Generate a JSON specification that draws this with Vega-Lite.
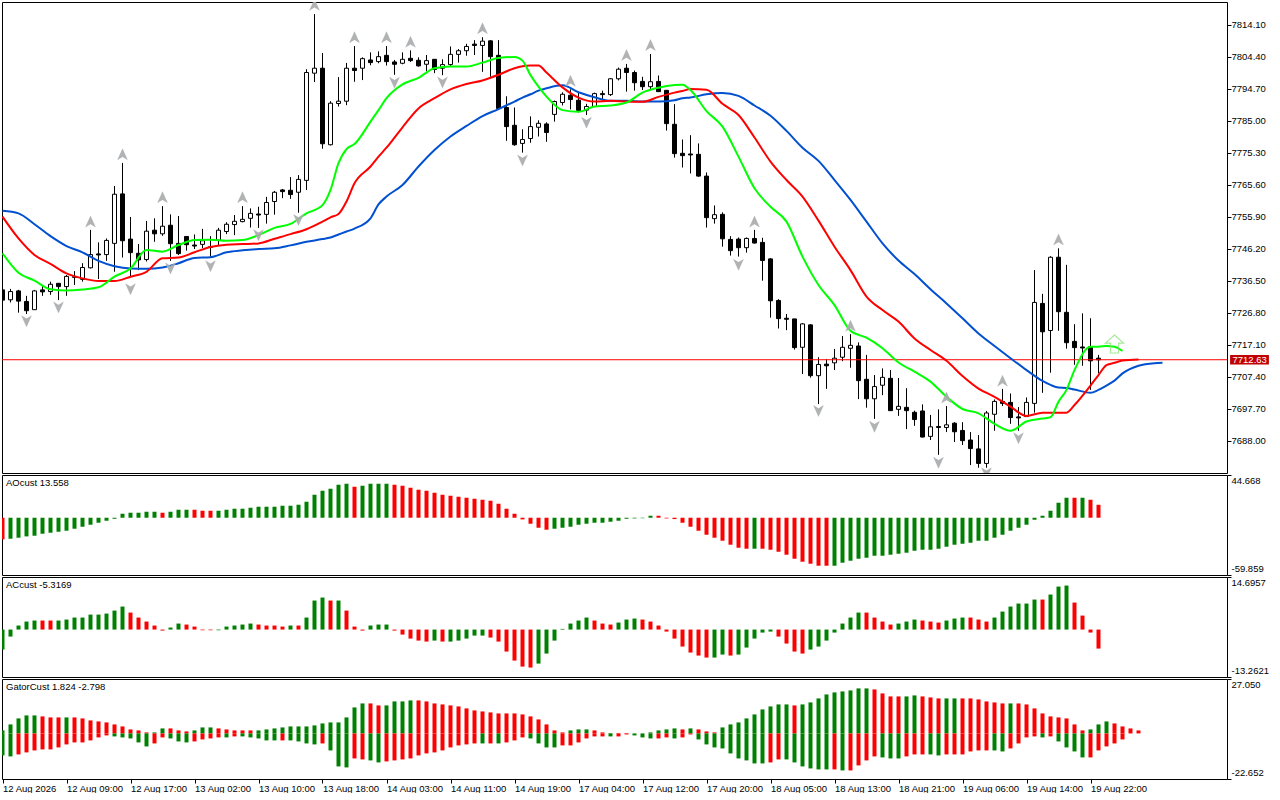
{
"$schema":"https://vega.github.io/schema/vega-lite/v6.json",
"background":"white",
"padding":{"left":1,"top":1,"right":0,"bottom":0},
"spacing":2,
"bounds":"flush",
"config":{
"font":"Liberation Sans",
"view":{"stroke":"#000000","strokeWidth":1},
"title":{"font":"Liberation Sans","fontSize":9.5,"fontWeight":"normal","color":"#000000","anchor":"start","frame":"group","offset":-13,"dx":4},
"axis":{"labelFont":"Liberation Sans","labelFontSize":9.5,"labelColor":"#000000","tickColor":"#000000","tickSize":4,"domain":false,"grid":false,"labelPadding":0,"labelOverlap":false,"labelBound":false,"labelFlush":false}
},
"datasets":{
"candles":[
{"i":0,"o":7733.8,"h":7733.8,"l":7730.7,"c":7730.7},
{"i":1,"o":7730.8,"h":7734.1,"l":7730.0,"c":7733.3},
{"i":2,"o":7733.5,"h":7733.8,"l":7726.9,"c":7730.4},
{"i":3,"o":7730.3,"h":7732.0,"l":7726.5,"c":7727.5},
{"i":4,"o":7727.8,"h":7733.8,"l":7727.8,"c":7733.5},
{"i":5,"o":7733.8,"h":7735.0,"l":7732.0,"c":7733.2},
{"i":6,"o":7733.3,"h":7736.3,"l":7732.3,"c":7735.5},
{"i":7,"o":7735.8,"h":7735.8,"l":7730.7,"c":7734.8},
{"i":8,"o":7734.8,"h":7738.3,"l":7732.0,"c":7737.9},
{"i":9,"o":7737.6,"h":7739.5,"l":7735.3,"c":7737.9},
{"i":10,"o":7737.0,"h":7741.9,"l":7736.3,"c":7740.6},
{"i":11,"o":7740.5,"h":7752.0,"l":7740.3,"c":7744.5},
{"i":12,"o":7744.7,"h":7748.2,"l":7737.1,"c":7744.4},
{"i":13,"o":7744.5,"h":7749.4,"l":7742.6,"c":7748.8},
{"i":14,"o":7747.9,"h":7765.3,"l":7739.3,"c":7762.8},
{"i":15,"o":7762.9,"h":7772.3,"l":7743.6,"c":7748.7},
{"i":16,"o":7749.2,"h":7755.9,"l":7737.8,"c":7745.1},
{"i":17,"o":7744.9,"h":7747.7,"l":7739.8,"c":7742.9},
{"i":18,"o":7743.0,"h":7754.7,"l":7742.4,"c":7751.6},
{"i":19,"o":7751.9,"h":7755.5,"l":7748.4,"c":7750.8},
{"i":20,"o":7750.8,"h":7759.2,"l":7750.2,"c":7753.1},
{"i":21,"o":7753.4,"h":7756.7,"l":7742.6,"c":7747.8},
{"i":22,"o":7747.9,"h":7756.2,"l":7744.4,"c":7744.8},
{"i":23,"o":7750.0,"h":7750.0,"l":7745.7,"c":7747.5},
{"i":24,"o":7747.4,"h":7750.6,"l":7746.2,"c":7747.1},
{"i":25,"o":7747.6,"h":7752.3,"l":7746.5,"c":7748.7},
{"i":26,"o":7746.7,"h":7750.1,"l":7743.9,"c":7746.9},
{"i":27,"o":7748.9,"h":7752.6,"l":7747.2,"c":7751.9},
{"i":28,"o":7751.5,"h":7754.3,"l":7750.7,"c":7753.7},
{"i":29,"o":7753.6,"h":7756.5,"l":7750.4,"c":7754.6},
{"i":30,"o":7754.5,"h":7759.2,"l":7754.3,"c":7755.2},
{"i":31,"o":7755.5,"h":7758.5,"l":7752.7,"c":7757.0},
{"i":32,"o":7756.8,"h":7759.0,"l":7752.6,"c":7756.5},
{"i":33,"o":7756.7,"h":7762.0,"l":7753.9,"c":7760.3},
{"i":34,"o":7760.6,"h":7763.8,"l":7756.6,"c":7763.4},
{"i":35,"o":7764.1,"h":7764.4,"l":7761.6,"c":7763.6},
{"i":36,"o":7764.0,"h":7768.0,"l":7761.4,"c":7762.7},
{"i":37,"o":7763.4,"h":7768.6,"l":7757.2,"c":7767.3},
{"i":38,"o":7767.0,"h":7800.7,"l":7764.1,"c":7799.7},
{"i":39,"o":7799.5,"h":7817.4,"l":7796.8,"c":7801.0},
{"i":40,"o":7801.0,"h":7805.6,"l":7776.6,"c":7778.1},
{"i":41,"o":7777.8,"h":7791.0,"l":7777.6,"c":7790.4},
{"i":42,"o":7790.3,"h":7798.3,"l":7789.4,"c":7791.0},
{"i":43,"o":7791.0,"h":7802.6,"l":7789.8,"c":7801.0},
{"i":44,"o":7801.0,"h":7807.7,"l":7796.9,"c":7800.3},
{"i":45,"o":7801.0,"h":7804.3,"l":7797.4,"c":7803.9},
{"i":46,"o":7803.5,"h":7805.8,"l":7801.9,"c":7802.7},
{"i":47,"o":7803.0,"h":7806.1,"l":7802.5,"c":7804.5},
{"i":48,"o":7804.9,"h":7807.7,"l":7801.8,"c":7803.0},
{"i":49,"o":7802.9,"h":7803.5,"l":7799.0,"c":7802.2},
{"i":50,"o":7802.5,"h":7805.8,"l":7802.2,"c":7803.7},
{"i":51,"o":7804.0,"h":7806.4,"l":7802.9,"c":7803.3},
{"i":52,"o":7803.4,"h":7804.3,"l":7801.5,"c":7801.7},
{"i":53,"o":7802.2,"h":7805.0,"l":7800.1,"c":7803.3},
{"i":54,"o":7803.7,"h":7803.7,"l":7799.5,"c":7800.6},
{"i":55,"o":7801.0,"h":7803.7,"l":7798.9,"c":7802.1},
{"i":56,"o":7802.1,"h":7807.6,"l":7801.5,"c":7805.2},
{"i":57,"o":7805.2,"h":7806.8,"l":7802.7,"c":7806.3},
{"i":58,"o":7806.3,"h":7808.4,"l":7804.8,"c":7807.6},
{"i":59,"o":7808.3,"h":7809.5,"l":7805.0,"c":7807.9},
{"i":60,"o":7807.9,"h":7810.4,"l":7799.9,"c":7809.2},
{"i":61,"o":7809.3,"h":7809.5,"l":7798.4,"c":7804.5},
{"i":62,"o":7804.9,"h":7809.5,"l":7788.8,"c":7788.8},
{"i":63,"o":7789.1,"h":7792.5,"l":7779.0,"c":7783.3},
{"i":64,"o":7783.7,"h":7789.1,"l":7777.5,"c":7777.8},
{"i":65,"o":7778.2,"h":7782.5,"l":7775.4,"c":7779.4},
{"i":66,"o":7779.7,"h":7786.4,"l":7778.4,"c":7783.3},
{"i":67,"o":7783.1,"h":7785.2,"l":7780.3,"c":7784.3},
{"i":68,"o":7784.1,"h":7784.6,"l":7778.7,"c":7781.5},
{"i":69,"o":7787.0,"h":7791.2,"l":7784.8,"c":7790.9},
{"i":70,"o":7790.6,"h":7793.7,"l":7789.7,"c":7793.1},
{"i":71,"o":7792.8,"h":7794.6,"l":7788.5,"c":7791.5},
{"i":72,"o":7791.3,"h":7793.9,"l":7787.6,"c":7788.2},
{"i":73,"o":7788.3,"h":7790.2,"l":7786.8,"c":7789.4},
{"i":74,"o":7789.4,"h":7793.6,"l":7789.2,"c":7793.3},
{"i":75,"o":7793.3,"h":7794.2,"l":7791.4,"c":7793.0},
{"i":76,"o":7793.0,"h":7798.0,"l":7792.6,"c":7797.8},
{"i":77,"o":7797.8,"h":7801.2,"l":7797.3,"c":7800.7},
{"i":78,"o":7801.0,"h":7802.3,"l":7793.9,"c":7799.7},
{"i":79,"o":7799.7,"h":7800.3,"l":7794.2,"c":7796.6},
{"i":80,"o":7797.0,"h":7798.4,"l":7794.4,"c":7795.4},
{"i":81,"o":7795.4,"h":7805.3,"l":7794.4,"c":7796.9},
{"i":82,"o":7797.0,"h":7798.8,"l":7793.9,"c":7793.9},
{"i":83,"o":7794.3,"h":7794.4,"l":7782.1,"c":7784.2},
{"i":84,"o":7784.0,"h":7790.1,"l":7773.9,"c":7775.1},
{"i":85,"o":7775.2,"h":7779.4,"l":7770.9,"c":7774.5},
{"i":86,"o":7775.0,"h":7780.7,"l":7769.1,"c":7774.7},
{"i":87,"o":7774.9,"h":7778.2,"l":7768.1,"c":7768.3},
{"i":88,"o":7768.3,"h":7769.4,"l":7752.7,"c":7755.7},
{"i":89,"o":7755.4,"h":7759.4,"l":7753.9,"c":7756.6},
{"i":90,"o":7756.7,"h":7757.3,"l":7746.9,"c":7749.3},
{"i":91,"o":7749.1,"h":7750.1,"l":7744.2,"c":7745.7},
{"i":92,"o":7749.2,"h":7749.7,"l":7743.9,"c":7746.6},
{"i":93,"o":7746.6,"h":7749.7,"l":7745.1,"c":7749.4},
{"i":94,"o":7749.4,"h":7752.0,"l":7747.9,"c":7748.0},
{"i":95,"o":7748.2,"h":7749.6,"l":7736.6,"c":7742.7},
{"i":96,"o":7743.2,"h":7743.4,"l":7725.4,"c":7730.5},
{"i":97,"o":7730.6,"h":7731.0,"l":7722.1,"c":7725.1},
{"i":98,"o":7725.2,"h":7726.5,"l":7721.6,"c":7724.9},
{"i":99,"o":7725.0,"h":7725.0,"l":7715.7,"c":7716.3},
{"i":100,"o":7716.4,"h":7723.7,"l":7708.3,"c":7723.5},
{"i":101,"o":7723.2,"h":7723.4,"l":7707.2,"c":7707.8},
{"i":102,"o":7707.8,"h":7713.4,"l":7699.2,"c":7711.2},
{"i":103,"o":7711.3,"h":7712.8,"l":7703.8,"c":7710.8},
{"i":104,"o":7711.7,"h":7715.9,"l":7709.5,"c":7713.1},
{"i":105,"o":7713.4,"h":7719.8,"l":7712.2,"c":7716.4},
{"i":106,"o":7716.1,"h":7720.4,"l":7710.2,"c":7717.0},
{"i":107,"o":7716.8,"h":7717.9,"l":7700.7,"c":7706.3},
{"i":108,"o":7706.7,"h":7714.1,"l":7698.1,"c":7700.8},
{"i":109,"o":7700.8,"h":7708.0,"l":7694.7,"c":7704.5},
{"i":110,"o":7704.9,"h":7710.0,"l":7701.9,"c":7707.3},
{"i":111,"o":7707.0,"h":7709.5,"l":7697.2,"c":7697.2},
{"i":112,"o":7697.6,"h":7707.1,"l":7695.6,"c":7698.5},
{"i":113,"o":7698.2,"h":7704.0,"l":7691.6,"c":7697.2},
{"i":114,"o":7696.7,"h":7697.2,"l":7692.6,"c":7694.5},
{"i":115,"o":7697.1,"h":7699.1,"l":7689.1,"c":7689.2},
{"i":116,"o":7689.4,"h":7695.9,"l":7688.3,"c":7692.3},
{"i":117,"o":7692.4,"h":7697.6,"l":7683.8,"c":7692.1},
{"i":118,"o":7692.1,"h":7698.6,"l":7690.7,"c":7692.9},
{"i":119,"o":7693.4,"h":7693.7,"l":7687.7,"c":7690.8},
{"i":120,"o":7691.2,"h":7693.7,"l":7686.8,"c":7688.1},
{"i":121,"o":7688.3,"h":7690.7,"l":7680.7,"c":7685.7},
{"i":122,"o":7685.6,"h":7689.8,"l":7679.9,"c":7681.2},
{"i":123,"o":7681.2,"h":7697.1,"l":7679.9,"c":7696.5},
{"i":124,"o":7696.1,"h":7700.6,"l":7691.1,"c":7700.0},
{"i":125,"o":7700.0,"h":7703.8,"l":7698.6,"c":7699.4},
{"i":126,"o":7699.7,"h":7702.4,"l":7693.2,"c":7695.1},
{"i":127,"o":7695.3,"h":7698.3,"l":7691.1,"c":7695.0},
{"i":128,"o":7695.4,"h":7701.2,"l":7695.4,"c":7699.7},
{"i":129,"o":7699.4,"h":7739.8,"l":7696.6,"c":7730.0},
{"i":130,"o":7729.7,"h":7732.6,"l":7702.6,"c":7721.1},
{"i":131,"o":7721.5,"h":7744.0,"l":7708.7,"c":7743.7},
{"i":132,"o":7743.7,"h":7746.4,"l":7721.4,"c":7727.2},
{"i":133,"o":7727.0,"h":7741.4,"l":7716.0,"c":7717.8},
{"i":134,"o":7718.2,"h":7723.4,"l":7711.1,"c":7716.3},
{"i":135,"o":7716.5,"h":7726.7,"l":7710.8,"c":7716.2},
{"i":136,"o":7716.6,"h":7725.2,"l":7703.5,"c":7712.3},
{"i":137,"o":7713.1,"h":7714.1,"l":7708.5,"c":7712.6}
],
"ma":[
{"i":0,"b":7757.8,"r":7756.0,"g":7744.9},
{"i":2,"b":7757.0,"r":7749.4,"g":7739.0},
{"i":4,"b":7753.7,"r":7744.4,"g":7736.6},
{"i":6,"b":7750.1,"r":7741.7,"g":7734.0},
{"i":8,"b":7747.1,"r":7738.8,"g":7733.6},
{"i":10,"b":7745.2,"r":7737.3,"g":7733.9},
{"i":12,"b":7742.6,"r":7736.5,"g":7734.6},
{"i":14,"b":7741.0,"r":7736.5,"g":7737.8},
{"i":16,"b":7740.3,"r":7737.8,"g":7740.3},
{"i":18,"b":7740.2,"r":7739.3,"g":7745.9},
{"i":20,"b":7740.6,"r":7743.4,"g":7745.4},
{"i":22,"b":7741.9,"r":7743.6,"g":7747.4},
{"i":24,"b":7743.5,"r":7745.2,"g":7748.9},
{"i":26,"b":7743.7,"r":7746.8,"g":7749.0},
{"i":28,"b":7745.2,"r":7747.5,"g":7748.7},
{"i":30,"b":7745.8,"r":7747.7,"g":7748.9},
{"i":32,"b":7746.2,"r":7747.9,"g":7750.4},
{"i":34,"b":7746.4,"r":7749.3,"g":7752.6},
{"i":36,"b":7747.3,"r":7750.7,"g":7753.8},
{"i":38,"b":7748.4,"r":7752.2,"g":7757.0},
{"i":40,"b":7749.2,"r":7754.5,"g":7759.5},
{"i":41,"b":7749.7,"r":7755.8,"g":7764.1},
{"i":42,"b":7750.6,"r":7756.8,"g":7772.2},
{"i":43,"b":7751.5,"r":7760.6,"g":7776.5},
{"i":44,"b":7752.4,"r":7766.1,"g":7778.0},
{"i":46,"b":7755.5,"r":7771.2,"g":7784.8},
{"i":47,"b":7759.7,"r":7774.2,"g":7788.3},
{"i":48,"b":7762.1,"r":7776.9,"g":7791.9},
{"i":50,"b":7765.6,"r":7783.1,"g":7796.1},
{"i":52,"b":7771.2,"r":7788.8,"g":7798.1},
{"i":54,"b":7776.2,"r":7791.9,"g":7801.0},
{"i":56,"b":7780.3,"r":7794.6,"g":7801.5},
{"i":58,"b":7783.5,"r":7796.2,"g":7801.5},
{"i":60,"b":7786.5,"r":7797.3,"g":7802.7},
{"i":62,"b":7788.6,"r":7799.0,"g":7804.1},
{"i":64,"b":7790.9,"r":7801.0,"g":7804.4},
{"i":65,"b":7792.1,"r":7801.6,"g":7803.3},
{"i":66,"b":7793.1,"r":7801.8,"g":7798.9},
{"i":67,"b":7794.2,"r":7801.8,"g":7795.4},
{"i":68,"b":7794.9,"r":7799.7,"g":7792.4},
{"i":70,"b":7795.8,"r":7795.2,"g":7788.3},
{"i":72,"b":7793.7,"r":7792.1,"g":7787.8},
{"i":74,"b":7792.2,"r":7790.9,"g":7789.4},
{"i":76,"b":7791.1,"r":7791.1,"g":7789.7},
{"i":78,"b":7791.1,"r":7790.9,"g":7790.6},
{"i":80,"b":7790.9,"r":7790.8,"g":7793.6},
{"i":82,"b":7790.9,"r":7792.3,"g":7795.1},
{"i":84,"b":7791.3,"r":7793.6,"g":7795.9},
{"i":85,"b":7791.9,"r":7794.1,"g":7796.0},
{"i":86,"b":7792.1,"r":7794.7,"g":7794.4},
{"i":88,"b":7793.1,"r":7794.5,"g":7788.0},
{"i":90,"b":7793.5,"r":7790.2,"g":7783.3},
{"i":92,"b":7792.6,"r":7786.8,"g":7774.2},
{"i":94,"b":7789.7,"r":7780.0,"g":7764.6},
{"i":96,"b":7786.6,"r":7772.7,"g":7759.0},
{"i":98,"b":7782.0,"r":7767.1,"g":7754.5},
{"i":100,"b":7776.9,"r":7762.1,"g":7743.9},
{"i":102,"b":7772.9,"r":7754.8,"g":7735.3},
{"i":104,"b":7767.1,"r":7746.9,"g":7729.2},
{"i":106,"b":7761.1,"r":7739.8,"g":7721.4},
{"i":108,"b":7754.5,"r":7731.8,"g":7719.3},
{"i":110,"b":7747.9,"r":7727.7,"g":7716.1},
{"i":112,"b":7742.7,"r":7724.2,"g":7711.8},
{"i":114,"b":7738.6,"r":7719.1,"g":7709.0},
{"i":116,"b":7734.0,"r":7715.6,"g":7706.0},
{"i":118,"b":7729.7,"r":7712.3,"g":7701.4},
{"i":120,"b":7725.2,"r":7707.7,"g":7697.7},
{"i":122,"b":7720.6,"r":7703.9,"g":7696.4},
{"i":124,"b":7716.8,"r":7701.4,"g":7693.2},
{"i":126,"b":7713.1,"r":7698.4,"g":7691.1},
{"i":128,"b":7709.5,"r":7695.6,"g":7693.9},
{"i":130,"b":7706.2,"r":7696.6,"g":7694.8},
{"i":131,"b":7705.0,"r":7696.6,"g":7695.2},
{"i":132,"b":7704.2,"r":7696.6,"g":7699.9},
{"i":133,"b":7704.1,"r":7696.6,"g":7703.5},
{"i":134,"b":7703.6,"r":7698.9,"g":7709.5},
{"i":136,"b":7702.6,"r":7704.8,"g":7716.6},
{"i":137,"b":7703.5,"r":7708.0,"g":7716.6},
{"i":138,"b":7704.8,"r":7711.0,"g":7716.8},
{"i":139,"b":7706.3,"r":7711.7,"g":7716.6},
{"i":140,"b":7708.5,"r":7712.4,"g":7715.3},
{"i":142,"b":7710.8,"r":7712.7},
{"i":144,"b":7711.6},
{"i":145,"b":7711.7}
],
"fractals":[
{"i":11,"p":7754.5,"d":"up"},{"i":15,"p":7774.9,"d":"up"},{"i":20,"p":7761.9,"d":"up"},{"i":30,"p":7761.9,"d":"up"},{"i":39,"p":7820.2,"d":"up"},{"i":44,"p":7810.4,"d":"up"},{"i":48,"p":7810.4,"d":"up"},{"i":51,"p":7809.0,"d":"up"},{"i":60,"p":7813.1,"d":"up"},{"i":71,"p":7797.2,"d":"up"},{"i":78,"p":7805.0,"d":"up"},{"i":81,"p":7808.0,"d":"up"},{"i":94,"p":7754.5,"d":"up"},{"i":106,"p":7722.9,"d":"up"},{"i":118,"p":7701.2,"d":"up"},{"i":125,"p":7706.3,"d":"up"},{"i":132,"p":7749.1,"d":"up"},
{"i":3,"p":7724.3,"d":"down"},{"i":7,"p":7728.5,"d":"down"},{"i":16,"p":7734.0,"d":"down"},{"i":21,"p":7740.3,"d":"down"},{"i":26,"p":7741.0,"d":"down"},{"i":32,"p":7750.4,"d":"down"},{"i":37,"p":7755.0,"d":"down"},{"i":49,"p":7796.6,"d":"down"},{"i":55,"p":7796.7,"d":"down"},{"i":65,"p":7773.0,"d":"down"},{"i":73,"p":7784.5,"d":"down"},{"i":92,"p":7741.4,"d":"down"},{"i":102,"p":7697.1,"d":"down"},{"i":109,"p":7692.3,"d":"down"},{"i":117,"p":7681.4,"d":"down"},{"i":123,"p":7678.2,"d":"down"},{"i":127,"p":7688.8,"d":"down"}
],
"signal":[{"i":139,"p":7717.4}],
"last":[{"i":137,"price":7712.63}],
"ao":[
{"i":0,"v":-22.65,"c":"r"},{"i":1,"v":-21.95,"c":"g"},{"i":2,"v":-20.9,"c":"g"},{"i":3,"v":-19.51,"c":"g"},{"i":4,"v":-18.81,"c":"g"},{"i":5,"v":-16.72,"c":"g"},{"i":6,"v":-15.68,"c":"g"},{"i":7,"v":-14.63,"c":"g"},{"i":8,"v":-13.59,"c":"g"},{"i":9,"v":-11.5,"c":"g"},{"i":10,"v":-9.41,"c":"g"},{"i":11,"v":-7.32,"c":"g"},{"i":12,"v":-5.23,"c":"g"},{"i":13,"v":-3.14,"c":"g"},{"i":14,"v":-1.05,"c":"g"},{"i":15,"v":4.18,"c":"g"},{"i":16,"v":5.23,"c":"g"},{"i":17,"v":5.23,"c":"g"},{"i":18,"v":6.27,"c":"g"},{"i":19,"v":6.27,"c":"g"},{"i":20,"v":5.23,"c":"r"},{"i":21,"v":6.27,"c":"g"},{"i":22,"v":8.36,"c":"g"},{"i":23,"v":8.36,"c":"g"},{"i":24,"v":8.36,"c":"r"},{"i":25,"v":7.32,"c":"r"},{"i":26,"v":7.32,"c":"r"},{"i":27,"v":7.32,"c":"g"},{"i":28,"v":8.36,"c":"g"},{"i":29,"v":9.41,"c":"g"},{"i":30,"v":9.41,"c":"g"},{"i":31,"v":10.45,"c":"g"},{"i":32,"v":11.5,"c":"g"},{"i":33,"v":11.5,"c":"g"},{"i":34,"v":11.5,"c":"g"},{"i":35,"v":12.54,"c":"g"},{"i":36,"v":12.54,"c":"g"},{"i":37,"v":13.59,"c":"g"},{"i":38,"v":16.72,"c":"g"},{"i":39,"v":24.04,"c":"g"},{"i":40,"v":28.22,"c":"g"},{"i":41,"v":30.31,"c":"g"},{"i":42,"v":34.49,"c":"g"},{"i":43,"v":35.54,"c":"g"},{"i":44,"v":32.4,"c":"r"},{"i":45,"v":33.45,"c":"g"},{"i":46,"v":35.54,"c":"g"},{"i":47,"v":35.54,"c":"g"},{"i":48,"v":35.54,"c":"g"},{"i":49,"v":34.49,"c":"r"},{"i":50,"v":33.45,"c":"r"},{"i":51,"v":31.36,"c":"r"},{"i":52,"v":29.27,"c":"r"},{"i":53,"v":28.22,"c":"r"},{"i":54,"v":26.13,"c":"r"},{"i":55,"v":24.04,"c":"r"},{"i":56,"v":22.99,"c":"r"},{"i":57,"v":21.95,"c":"r"},{"i":58,"v":20.9,"c":"r"},{"i":59,"v":19.86,"c":"r"},{"i":60,"v":18.81,"c":"r"},{"i":61,"v":17.77,"c":"r"},{"i":62,"v":14.63,"c":"r"},{"i":63,"v":9.41,"c":"r"},{"i":64,"v":4.18,"c":"r"},{"i":65,"v":-1.74,"c":"r"},{"i":66,"v":-6.27,"c":"r"},{"i":67,"v":-10.45,"c":"r"},{"i":68,"v":-12.54,"c":"r"},{"i":69,"v":-11.5,"c":"g"},{"i":70,"v":-10.45,"c":"g"},{"i":71,"v":-9.41,"c":"g"},{"i":72,"v":-7.32,"c":"g"},{"i":73,"v":-6.27,"c":"g"},{"i":74,"v":-5.23,"c":"g"},{"i":75,"v":-5.23,"c":"g"},{"i":76,"v":-4.18,"c":"g"},{"i":77,"v":-3.14,"c":"g"},{"i":78,"v":-1.05,"c":"g"},{"i":79,"v":-0.7,"c":"g"},{"i":80,"v":-0.5,"c":"g"},{"i":81,"v":2.09,"c":"g"},{"i":82,"v":2.09,"c":"r"},{"i":83,"v":-0.7,"c":"r"},{"i":84,"v":-1.39,"c":"r"},{"i":85,"v":-5.23,"c":"r"},{"i":86,"v":-9.41,"c":"r"},{"i":87,"v":-13.59,"c":"r"},{"i":88,"v":-17.77,"c":"r"},{"i":89,"v":-20.9,"c":"r"},{"i":90,"v":-24.04,"c":"r"},{"i":91,"v":-28.22,"c":"r"},{"i":92,"v":-31.36,"c":"r"},{"i":93,"v":-32.4,"c":"r"},{"i":94,"v":-32.4,"c":"g"},{"i":95,"v":-32.4,"c":"r"},{"i":96,"v":-33.45,"c":"r"},{"i":97,"v":-35.54,"c":"r"},{"i":98,"v":-38.67,"c":"r"},{"i":99,"v":-42.85,"c":"r"},{"i":100,"v":-45.99,"c":"r"},{"i":101,"v":-48.08,"c":"r"},{"i":102,"v":-50.17,"c":"r"},{"i":103,"v":-50.17,"c":"r"},{"i":104,"v":-50.17,"c":"g"},{"i":105,"v":-47.03,"c":"g"},{"i":106,"v":-44.94,"c":"g"},{"i":107,"v":-42.85,"c":"g"},{"i":108,"v":-41.81,"c":"g"},{"i":109,"v":-39.72,"c":"g"},{"i":110,"v":-39.72,"c":"g"},{"i":111,"v":-38.67,"c":"g"},{"i":112,"v":-37.63,"c":"g"},{"i":113,"v":-36.58,"c":"g"},{"i":114,"v":-34.49,"c":"g"},{"i":115,"v":-33.45,"c":"g"},{"i":116,"v":-33.45,"c":"g"},{"i":117,"v":-32.4,"c":"g"},{"i":118,"v":-30.31,"c":"g"},{"i":119,"v":-28.22,"c":"g"},{"i":120,"v":-27.18,"c":"g"},{"i":121,"v":-26.13,"c":"g"},{"i":122,"v":-24.04,"c":"g"},{"i":123,"v":-24.04,"c":"g"},{"i":124,"v":-20.9,"c":"g"},{"i":125,"v":-17.77,"c":"g"},{"i":126,"v":-13.59,"c":"g"},{"i":127,"v":-10.45,"c":"g"},{"i":128,"v":-7.32,"c":"g"},{"i":129,"v":-2.09,"c":"g"},{"i":130,"v":2.09,"c":"g"},{"i":131,"v":7.32,"c":"g"},{"i":132,"v":15.68,"c":"g"},{"i":133,"v":20.9,"c":"g"},{"i":134,"v":20.9,"c":"r"},{"i":135,"v":20.9,"c":"g"},{"i":136,"v":18.81,"c":"r"},{"i":137,"v":13.558,"c":"r"}
],
"ac":[
{"i":0,"v":-5.59,"c":"g"},{"i":1,"v":-1.96,"c":"g"},{"i":2,"v":1.12,"c":"g"},{"i":3,"v":2.24,"c":"g"},{"i":4,"v":2.52,"c":"g"},{"i":5,"v":2.52,"c":"r"},{"i":6,"v":2.52,"c":"r"},{"i":7,"v":2.52,"c":"g"},{"i":8,"v":2.8,"c":"g"},{"i":9,"v":3.36,"c":"g"},{"i":10,"v":3.36,"c":"g"},{"i":11,"v":4.19,"c":"g"},{"i":12,"v":4.19,"c":"g"},{"i":13,"v":4.47,"c":"g"},{"i":14,"v":5.31,"c":"g"},{"i":15,"v":6.43,"c":"g"},{"i":16,"v":4.75,"c":"r"},{"i":17,"v":3.36,"c":"r"},{"i":18,"v":2.24,"c":"r"},{"i":19,"v":1.12,"c":"r"},{"i":20,"v":-0.28,"c":"r"},{"i":21,"v":0.56,"c":"g"},{"i":22,"v":1.68,"c":"g"},{"i":23,"v":1.4,"c":"r"},{"i":24,"v":0.84,"c":"r"},{"i":25,"v":-0.19,"c":"r"},{"i":26,"v":-0.19,"c":"r"},{"i":27,"v":-0.19,"c":"g"},{"i":28,"v":0.84,"c":"g"},{"i":29,"v":1.12,"c":"g"},{"i":30,"v":1.4,"c":"g"},{"i":31,"v":1.68,"c":"g"},{"i":32,"v":1.4,"c":"r"},{"i":33,"v":1.12,"c":"r"},{"i":34,"v":1.12,"c":"r"},{"i":35,"v":0.84,"c":"r"},{"i":36,"v":1.12,"c":"g"},{"i":37,"v":1.12,"c":"r"},{"i":38,"v":3.36,"c":"g"},{"i":39,"v":8.11,"c":"g"},{"i":40,"v":8.95,"c":"g"},{"i":41,"v":8.11,"c":"r"},{"i":42,"v":8.11,"c":"g"},{"i":43,"v":5.31,"c":"r"},{"i":44,"v":0.84,"c":"r"},{"i":45,"v":-0.28,"c":"r"},{"i":46,"v":1.12,"c":"g"},{"i":47,"v":1.4,"c":"g"},{"i":48,"v":1.4,"c":"g"},{"i":49,"v":-0.28,"c":"r"},{"i":50,"v":-1.4,"c":"r"},{"i":51,"v":-2.52,"c":"r"},{"i":52,"v":-3.08,"c":"r"},{"i":53,"v":-3.36,"c":"r"},{"i":54,"v":-3.08,"c":"g"},{"i":55,"v":-3.36,"c":"r"},{"i":56,"v":-3.36,"c":"g"},{"i":57,"v":-3.08,"c":"g"},{"i":58,"v":-2.52,"c":"g"},{"i":59,"v":-1.68,"c":"g"},{"i":60,"v":-1.68,"c":"g"},{"i":61,"v":-2.24,"c":"r"},{"i":62,"v":-3.36,"c":"r"},{"i":63,"v":-6.15,"c":"r"},{"i":64,"v":-8.67,"c":"r"},{"i":65,"v":-10.35,"c":"r"},{"i":66,"v":-10.62,"c":"r"},{"i":67,"v":-9.51,"c":"g"},{"i":68,"v":-6.71,"c":"g"},{"i":69,"v":-3.08,"c":"g"},{"i":70,"v":0.19,"c":"g"},{"i":71,"v":1.68,"c":"g"},{"i":72,"v":2.52,"c":"g"},{"i":73,"v":3.36,"c":"g"},{"i":74,"v":2.52,"c":"r"},{"i":75,"v":1.68,"c":"r"},{"i":76,"v":1.4,"c":"r"},{"i":77,"v":1.96,"c":"g"},{"i":78,"v":2.8,"c":"g"},{"i":79,"v":3.08,"c":"g"},{"i":80,"v":2.8,"c":"r"},{"i":81,"v":2.24,"c":"r"},{"i":82,"v":1.12,"c":"r"},{"i":83,"v":-0.56,"c":"r"},{"i":84,"v":-2.52,"c":"r"},{"i":85,"v":-4.75,"c":"r"},{"i":86,"v":-6.43,"c":"r"},{"i":87,"v":-7.27,"c":"r"},{"i":88,"v":-7.83,"c":"r"},{"i":89,"v":-7.83,"c":"g"},{"i":90,"v":-6.99,"c":"g"},{"i":91,"v":-7.27,"c":"r"},{"i":92,"v":-6.99,"c":"g"},{"i":93,"v":-5.03,"c":"g"},{"i":94,"v":-2.52,"c":"g"},{"i":95,"v":-0.84,"c":"g"},{"i":96,"v":-0.56,"c":"g"},{"i":97,"v":-1.96,"c":"r"},{"i":98,"v":-3.91,"c":"r"},{"i":99,"v":-6.15,"c":"r"},{"i":100,"v":-6.71,"c":"r"},{"i":101,"v":-5.59,"c":"g"},{"i":102,"v":-4.75,"c":"g"},{"i":103,"v":-3.08,"c":"g"},{"i":104,"v":-0.84,"c":"g"},{"i":105,"v":1.68,"c":"g"},{"i":106,"v":3.36,"c":"g"},{"i":107,"v":4.75,"c":"g"},{"i":108,"v":4.75,"c":"r"},{"i":109,"v":3.36,"c":"r"},{"i":110,"v":2.24,"c":"r"},{"i":111,"v":1.4,"c":"r"},{"i":112,"v":1.68,"c":"g"},{"i":113,"v":2.24,"c":"g"},{"i":114,"v":2.8,"c":"g"},{"i":115,"v":2.52,"c":"r"},{"i":116,"v":2.24,"c":"r"},{"i":117,"v":1.96,"c":"r"},{"i":118,"v":2.52,"c":"g"},{"i":119,"v":3.08,"c":"g"},{"i":120,"v":3.36,"c":"g"},{"i":121,"v":3.36,"c":"r"},{"i":122,"v":2.8,"c":"r"},{"i":123,"v":2.24,"c":"r"},{"i":124,"v":3.36,"c":"g"},{"i":125,"v":5.03,"c":"g"},{"i":126,"v":6.43,"c":"g"},{"i":127,"v":7.27,"c":"g"},{"i":128,"v":7.27,"c":"g"},{"i":129,"v":8.39,"c":"g"},{"i":130,"v":8.39,"c":"r"},{"i":131,"v":9.79,"c":"g"},{"i":132,"v":12.02,"c":"g"},{"i":133,"v":12.3,"c":"g"},{"i":134,"v":7.55,"c":"r"},{"i":135,"v":3.91,"c":"r"},{"i":136,"v":-0.84,"c":"r"},{"i":137,"v":-5.3169,"c":"r"}
],
"gator":[
{"i":0,"u":1.49,"uc":"g","n":-10.93,"nc":"g"},{"i":1,"u":4.47,"uc":"g","n":-11.43,"nc":"g"},{"i":2,"u":7.46,"uc":"g","n":-10.44,"nc":"r"},{"i":3,"u":8.95,"uc":"g","n":-9.44,"nc":"r"},{"i":4,"u":8.95,"uc":"g","n":-8.45,"nc":"r"},{"i":5,"u":8.45,"uc":"r","n":-7.95,"nc":"r"},{"i":6,"u":7.95,"uc":"r","n":-7.95,"nc":"r"},{"i":7,"u":7.95,"uc":"r","n":-6.96,"nc":"r"},{"i":8,"u":7.95,"uc":"g","n":-5.47,"nc":"r"},{"i":9,"u":7.95,"uc":"r","n":-4.47,"nc":"r"},{"i":10,"u":7.46,"uc":"r","n":-4.47,"nc":"r"},{"i":11,"u":6.46,"uc":"r","n":-3.48,"nc":"r"},{"i":12,"u":5.96,"uc":"r","n":-1.99,"nc":"r"},{"i":13,"u":5.47,"uc":"r","n":-0.99,"nc":"r"},{"i":14,"u":4.47,"uc":"r","n":-1.49,"nc":"g"},{"i":15,"u":3.48,"uc":"r","n":-1.99,"nc":"g"},{"i":16,"u":1.99,"uc":"r","n":-2.49,"nc":"g"},{"i":17,"u":1.49,"uc":"r","n":-4.47,"nc":"g"},{"i":18,"u":0.5,"uc":"r","n":-6.46,"nc":"g"},{"i":19,"u":0.5,"uc":"g","n":-4.97,"nc":"r"},{"i":20,"u":2.49,"uc":"g","n":-1.99,"nc":"r"},{"i":21,"u":2.49,"uc":"r","n":-2.49,"nc":"g"},{"i":22,"u":1.49,"uc":"r","n":-3.98,"nc":"g"},{"i":23,"u":0.99,"uc":"r","n":-4.47,"nc":"g"},{"i":24,"u":1.49,"uc":"g","n":-3.98,"nc":"r"},{"i":25,"u":2.98,"uc":"g","n":-2.98,"nc":"r"},{"i":26,"u":2.98,"uc":"g","n":-2.49,"nc":"r"},{"i":27,"u":2.49,"uc":"r","n":-1.99,"nc":"r"},{"i":28,"u":1.99,"uc":"r","n":-1.99,"nc":"g"},{"i":29,"u":1.49,"uc":"r","n":-1.49,"nc":"r"},{"i":30,"u":1.49,"uc":"r","n":-1.49,"nc":"g"},{"i":31,"u":1.49,"uc":"r","n":-1.99,"nc":"g"},{"i":32,"u":1.49,"uc":"g","n":-2.49,"nc":"g"},{"i":33,"u":1.99,"uc":"g","n":-3.48,"nc":"g"},{"i":34,"u":2.49,"uc":"g","n":-3.48,"nc":"g"},{"i":35,"u":2.98,"uc":"g","n":-3.48,"nc":"r"},{"i":36,"u":3.48,"uc":"g","n":-3.48,"nc":"g"},{"i":37,"u":3.48,"uc":"g","n":-3.98,"nc":"g"},{"i":38,"u":3.48,"uc":"g","n":-4.97,"nc":"g"},{"i":39,"u":3.98,"uc":"g","n":-5.47,"nc":"g"},{"i":40,"u":4.97,"uc":"g","n":-4.97,"nc":"r"},{"i":41,"u":5.47,"uc":"g","n":-8.45,"nc":"g"},{"i":42,"u":5.47,"uc":"g","n":-16.4,"nc":"g"},{"i":43,"u":7.95,"uc":"g","n":-16.9,"nc":"g"},{"i":44,"u":12.92,"uc":"g","n":-12.43,"nc":"r"},{"i":45,"u":14.91,"uc":"g","n":-12.92,"nc":"r"},{"i":46,"u":14.91,"uc":"r","n":-13.42,"nc":"g"},{"i":47,"u":13.92,"uc":"r","n":-14.41,"nc":"g"},{"i":48,"u":13.92,"uc":"g","n":-13.92,"nc":"r"},{"i":49,"u":15.9,"uc":"g","n":-13.42,"nc":"r"},{"i":50,"u":15.9,"uc":"g","n":-12.92,"nc":"r"},{"i":51,"u":16.4,"uc":"g","n":-12.43,"nc":"r"},{"i":52,"u":16.4,"uc":"r","n":-10.93,"nc":"r"},{"i":53,"u":15.9,"uc":"r","n":-9.94,"nc":"r"},{"i":54,"u":14.91,"uc":"r","n":-9.44,"nc":"r"},{"i":55,"u":14.41,"uc":"r","n":-8.45,"nc":"r"},{"i":56,"u":13.92,"uc":"r","n":-6.96,"nc":"r"},{"i":57,"u":13.42,"uc":"r","n":-5.96,"nc":"r"},{"i":58,"u":12.43,"uc":"r","n":-5.47,"nc":"r"},{"i":59,"u":11.43,"uc":"r","n":-4.97,"nc":"r"},{"i":60,"u":10.93,"uc":"r","n":-4.97,"nc":"g"},{"i":61,"u":10.44,"uc":"r","n":-4.97,"nc":"r"},{"i":62,"u":9.94,"uc":"r","n":-4.97,"nc":"g"},{"i":63,"u":9.94,"uc":"r","n":-4.47,"nc":"r"},{"i":64,"u":9.94,"uc":"r","n":-3.48,"nc":"r"},{"i":65,"u":9.44,"uc":"r","n":-1.99,"nc":"r"},{"i":66,"u":8.45,"uc":"r","n":-2.49,"nc":"g"},{"i":67,"u":6.96,"uc":"r","n":-4.97,"nc":"g"},{"i":68,"u":4.47,"uc":"r","n":-6.96,"nc":"g"},{"i":69,"u":1.49,"uc":"r","n":-6.96,"nc":"g"},{"i":70,"u":0.5,"uc":"r","n":-5.96,"nc":"r"},{"i":71,"u":1.49,"uc":"g","n":-5.96,"nc":"r"},{"i":72,"u":1.99,"uc":"g","n":-4.47,"nc":"r"},{"i":73,"u":1.99,"uc":"g","n":-2.49,"nc":"r"},{"i":74,"u":1.49,"uc":"r","n":-1.49,"nc":"r"},{"i":75,"u":0.5,"uc":"r","n":-1.49,"nc":"r"},{"i":76,"u":0.17,"uc":"g","n":-1.49,"nc":"g"},{"i":77,"u":0.17,"uc":"r","n":-1.49,"nc":"r"},{"i":78,"u":0.17,"uc":"r","n":-0.5,"nc":"r"},{"i":79,"u":0,"uc":"g","n":-0.99,"nc":"g"},{"i":80,"u":0,"uc":"g","n":-1.99,"nc":"g"},{"i":81,"u":0.5,"uc":"g","n":-2.49,"nc":"g"},{"i":82,"u":1.49,"uc":"g","n":-2.49,"nc":"r"},{"i":83,"u":1.99,"uc":"g","n":-1.99,"nc":"r"},{"i":84,"u":2.49,"uc":"g","n":-2.49,"nc":"g"},{"i":85,"u":1.99,"uc":"r","n":-1.99,"nc":"r"},{"i":86,"u":2.49,"uc":"g","n":-0.5,"nc":"r"},{"i":87,"u":1.99,"uc":"r","n":-2.98,"nc":"g"},{"i":88,"u":0.99,"uc":"r","n":-5.47,"nc":"g"},{"i":89,"u":0.5,"uc":"r","n":-6.96,"nc":"g"},{"i":90,"u":2.98,"uc":"g","n":-7.46,"nc":"g"},{"i":91,"u":4.47,"uc":"g","n":-9.94,"nc":"g"},{"i":92,"u":5.47,"uc":"g","n":-12.43,"nc":"g"},{"i":93,"u":7.46,"uc":"g","n":-13.42,"nc":"g"},{"i":94,"u":9.44,"uc":"g","n":-14.91,"nc":"g"},{"i":95,"u":11.93,"uc":"g","n":-14.91,"nc":"g"},{"i":96,"u":13.42,"uc":"g","n":-14.41,"nc":"r"},{"i":97,"u":14.41,"uc":"g","n":-12.92,"nc":"r"},{"i":98,"u":14.41,"uc":"g","n":-12.92,"nc":"g"},{"i":99,"u":13.92,"uc":"r","n":-14.41,"nc":"g"},{"i":100,"u":14.41,"uc":"g","n":-16.4,"nc":"g"},{"i":101,"u":15.41,"uc":"g","n":-17.4,"nc":"g"},{"i":102,"u":17.4,"uc":"g","n":-17.89,"nc":"g"},{"i":103,"u":19.38,"uc":"g","n":-17.89,"nc":"g"},{"i":104,"u":20.38,"uc":"g","n":-17.89,"nc":"r"},{"i":105,"u":20.87,"uc":"g","n":-18.39,"nc":"g"},{"i":106,"u":21.37,"uc":"g","n":-18.39,"nc":"r"},{"i":107,"u":22.37,"uc":"g","n":-15.9,"nc":"r"},{"i":108,"u":22.37,"uc":"g","n":-13.42,"nc":"r"},{"i":109,"u":21.87,"uc":"r","n":-11.43,"nc":"r"},{"i":110,"u":19.88,"uc":"r","n":-11.93,"nc":"g"},{"i":111,"u":18.39,"uc":"r","n":-12.43,"nc":"g"},{"i":112,"u":18.39,"uc":"r","n":-12.43,"nc":"g"},{"i":113,"u":18.39,"uc":"g","n":-11.43,"nc":"r"},{"i":114,"u":18.89,"uc":"g","n":-10.44,"nc":"r"},{"i":115,"u":18.39,"uc":"r","n":-10.44,"nc":"r"},{"i":116,"u":17.89,"uc":"r","n":-10.44,"nc":"g"},{"i":117,"u":17.4,"uc":"r","n":-10.93,"nc":"g"},{"i":118,"u":17.4,"uc":"g","n":-10.44,"nc":"r"},{"i":119,"u":17.4,"uc":"g","n":-10.44,"nc":"r"},{"i":120,"u":17.4,"uc":"r","n":-10.44,"nc":"r"},{"i":121,"u":17.4,"uc":"r","n":-8.95,"nc":"r"},{"i":122,"u":16.9,"uc":"r","n":-8.45,"nc":"r"},{"i":123,"u":15.9,"uc":"r","n":-8.45,"nc":"r"},{"i":124,"u":15.41,"uc":"r","n":-8.45,"nc":"g"},{"i":125,"u":14.91,"uc":"r","n":-8.95,"nc":"g"},{"i":126,"u":14.91,"uc":"g","n":-7.46,"nc":"r"},{"i":127,"u":14.91,"uc":"r","n":-4.97,"nc":"r"},{"i":128,"u":14.41,"uc":"r","n":-1.99,"nc":"r"},{"i":129,"u":12.43,"uc":"r","n":-1.49,"nc":"r"},{"i":130,"u":9.94,"uc":"r","n":-1.99,"nc":"g"},{"i":131,"u":8.45,"uc":"r","n":-1.49,"nc":"r"},{"i":132,"u":7.95,"uc":"r","n":-3.98,"nc":"g"},{"i":133,"u":7.46,"uc":"r","n":-6.96,"nc":"g"},{"i":134,"u":4.47,"uc":"r","n":-8.95,"nc":"g"},{"i":135,"u":1.49,"uc":"r","n":-11.93,"nc":"g"},{"i":136,"u":1.99,"uc":"g","n":-11.93,"nc":"r"},{"i":137,"u":4.47,"uc":"g","n":-8.45,"nc":"r"},{"i":138,"u":5.96,"uc":"g","n":-6.46,"nc":"r"},{"i":139,"u":4.97,"uc":"r","n":-4.97,"nc":"r"},{"i":140,"u":3.48,"uc":"r","n":-2.98,"nc":"r"},{"i":141,"u":2.49,"uc":"r","n":0,"nc":"r"},{"i":142,"u":1.49,"uc":"r","n":0,"nc":"r"}
]
},
"vconcat":[
{
"width":1225,"height":471,
"data":{"name":"candles"},
"encoding":{"x":{"field":"i","type":"quantitative","title":null,"scale":{"domain":[-0.0625,153.0625],"nice":false,"zero":false,"padding":0},"axis":{"ticks":false,"labels":false}}},
"layer":[
{"mark":{"type":"rule","stroke":"#000000","strokeWidth":1,"clip":true},
"encoding":{"y":{"field":"l","type":"quantitative","title":null,"scale":{"domain":[7678.3,7821.07],"nice":false,"zero":false},
"axis":{"orient":"right","labelOverlap":false,"tickCount":100,"values":[7814.1,7804.4,7794.7,7785,7775.3,7765.6,7755.9,7746.2,7736.5,7726.8,7717.1,7707.4,7697.7,7688],"format":".2f"}},"y2":{"field":"h"}}},
{"mark":{"type":"bar","orient":"vertical","size":4,"stroke":"#000000","strokeWidth":1,"clip":true},
"encoding":{"y":{"field":"o","type":"quantitative","title":null,"stack":null,"scale":{"domain":[7678.3,7821.07],"nice":false,"zero":false}},"y2":{"field":"c"},
"fill":{"condition":{"test":"datum.c >= datum.o","value":"#ffffff"},"value":"#000000"}}},
{"data":{"name":"last"},"mark":{"type":"rule","stroke":"#FF0000","strokeWidth":1},
"encoding":{"x":{"datum":-0.0625,"title":null,"scale":{"domain":[-0.0625,153.0625],"nice":false,"zero":false,"padding":0}},"x2":{"datum":153.0625},
"y":{"field":"price","type":"quantitative","title":null,"scale":{"domain":[7678.3,7821.07],"nice":false,"zero":false}}}},
{"data":{"name":"ma"},"mark":{"type":"line","stroke":"#0050D0","strokeWidth":2,"clip":true,"interpolate":"monotone"},
"encoding":{"y":{"field":"b","type":"quantitative","title":null,"scale":{"domain":[7678.3,7821.07],"nice":false,"zero":false}}}},
{"data":{"name":"ma"},"mark":{"type":"line","stroke":"#FF0000","strokeWidth":2,"clip":true,"interpolate":"monotone"},
"encoding":{"y":{"field":"r","type":"quantitative","title":null,"scale":{"domain":[7678.3,7821.07],"nice":false,"zero":false}}}},
{"data":{"name":"ma"},"mark":{"type":"line","stroke":"#00FF00","strokeWidth":2,"clip":true,"interpolate":"monotone"},
"encoding":{"y":{"field":"g","type":"quantitative","title":null,"scale":{"domain":[7678.3,7821.07],"nice":false,"zero":false}}}},
{"data":{"name":"fractals"},"mark":{"type":"point","filled":true,"size":121,"fill":"#e2e6ea","stroke":"#c4c8cc","strokeWidth":0.6,"clip":true},
"encoding":{"y":{"field":"p","type":"quantitative","title":null,"scale":{"domain":[7678.3,7821.07],"nice":false,"zero":false}},
"shape":{"field":"d","type":"nominal","legend":null,"scale":{"domain":["up","down"],"range":["M0,-1 L0.9,1 L0,0.45 L-0.9,1 Z","M0,1 L0.9,-1 L0,-0.45 L-0.9,-1 Z"]}}}},
{"data":{"name":"fractals"},"mark":{"type":"point","filled":true,"size":121,"fill":"#989898","clip":true},
"encoding":{"y":{"field":"p","type":"quantitative","title":null,"scale":{"domain":[7678.3,7821.07],"nice":false,"zero":false}},
"shape":{"field":"d","type":"nominal","legend":null,"scale":{"domain":["up","down"],"range":["M0,-1 L0,0.45 L-0.9,1 Z","M0,1 L0,-0.45 L0.9,-1 Z"]}}}},
{"data":{"name":"signal"},"mark":{"type":"point","filled":false,"size":324,"stroke":"#80E070","strokeWidth":1.2,"clip":true,"shape":"M0,-1 L1,-0.1 L0.45,-0.1 L0.45,1 L-0.45,1 L-0.45,-0.1 L-1,-0.1 Z"},
"encoding":{"y":{"field":"p","type":"quantitative","title":null,"scale":{"domain":[7678.3,7821.07],"nice":false,"zero":false}}}},
{"data":{"name":"last"},"mark":{"type":"rect","fill":"#C00000"},
"encoding":{"x":{"datum":153.45,"title":null,"scale":{"domain":[-0.0625,153.0625],"nice":false,"zero":false,"padding":0}},"x2":{"datum":158.3},
"y":{"datum":7714.1,"title":null,"scale":{"domain":[7678.3,7821.07],"nice":false,"zero":false}},"y2":{"datum":7711.2}}},
{"data":{"name":"last"},"mark":{"type":"text","align":"left","baseline":"middle","color":"#ffffff","font":"Liberation Sans","fontSize":9.5},
"encoding":{"x":{"datum":153.75,"title":null,"scale":{"domain":[-0.0625,153.0625],"nice":false,"zero":false,"padding":0}},
"y":{"field":"price","type":"quantitative","title":null,"scale":{"domain":[7678.3,7821.07],"nice":false,"zero":false}},
"text":{"field":"price","type":"quantitative","format":".2f"}}}
]
},
{
"title":"AOcust 13.558",
"width":1225,"height":100,
"data":{"name":"ao"},
"encoding":{"x":{"field":"i","type":"quantitative","title":null,"scale":{"domain":[-0.0625,153.0625],"nice":false,"zero":false,"padding":0},"axis":{"ticks":false,"labels":false}}},
"mark":{"type":"bar","orient":"vertical","size":4,"clip":true},
"layer":[
{"mark":{"type":"bar","orient":"vertical","size":4,"clip":true},
"encoding":{"y":{"field":"v","type":"quantitative","title":null,"stack":null,"scale":{"domain":[-59.859,44.668],"nice":false,"zero":false},
"axis":{"orient":"right","labelOverlap":false,"values":[44.668,-59.859],"labelExpr":"datum.value > 0 ? '44.668' : '-59.859'","labelBaseline":{"condition":{"test":"datum.value > 0","value":"top"},"value":"bottom"},"labelOffset":{"condition":{"test":"datum.value > 0","value":0},"value":-2}}},"y2":{"datum":0},
"fill":{"field":"c","type":"nominal","legend":null,"scale":{"domain":["g","r"],"range":["#008000","#FF0000"]}}}}
]
},
{
"title":"ACcust -5.3169",
"width":1225,"height":100,
"data":{"name":"ac"},
"encoding":{"x":{"field":"i","type":"quantitative","title":null,"scale":{"domain":[-0.0625,153.0625],"nice":false,"zero":false,"padding":0},"axis":{"ticks":false,"labels":false}}},
"layer":[
{"mark":{"type":"bar","orient":"vertical","size":4,"clip":true},
"encoding":{"y":{"field":"v","type":"quantitative","title":null,"stack":null,"scale":{"domain":[-13.2621,14.6957],"nice":false,"zero":false},
"axis":{"orient":"right","labelOverlap":false,"values":[14.6957,-13.2621],"labelExpr":"datum.value > 0 ? '14.6957' : '-13.2621'","labelBaseline":{"condition":{"test":"datum.value > 0","value":"top"},"value":"bottom"},"labelOffset":{"condition":{"test":"datum.value > 0","value":0},"value":-2}}},"y2":{"datum":0},
"fill":{"field":"c","type":"nominal","legend":null,"scale":{"domain":["g","r"],"range":["#008000","#FF0000"]}}}}
]
},
{
"title":"GatorCust 1.824 -2.798",
"width":1225,"height":100,
"data":{"name":"gator"},
"encoding":{"x":{"field":"i","type":"quantitative","title":null,"scale":{"domain":[-0.0625,153.0625],"nice":false,"zero":false,"padding":0},
"axis":{"orient":"bottom","labelOverlap":false,"values":[0,8,16,24,32,40,48,56,64,72,80,88,96,104,112,120,128,136],"labelAlign":"left","labelPadding":0,"labelExpr":"['12 Aug 2026','12 Aug 09:00','12 Aug 17:00','13 Aug 02:00','13 Aug 10:00','13 Aug 18:00','14 Aug 03:00','14 Aug 11:00','14 Aug 19:00','17 Aug 04:00','17 Aug 12:00','17 Aug 20:00','18 Aug 05:00','18 Aug 13:00','18 Aug 21:00','19 Aug 06:00','19 Aug 14:00','19 Aug 22:00'][round(datum.value/8)]"}}},
"layer":[
{"mark":{"type":"bar","orient":"vertical","size":4,"clip":true},
"encoding":{"y":{"field":"u","type":"quantitative","title":null,"stack":null,"scale":{"domain":[-22.652,27.05],"nice":false,"zero":false},
"axis":{"orient":"right","labelOverlap":false,"values":[27.05,-22.652],"labelExpr":"datum.value > 0 ? '27.050' : '-22.652'","labelBaseline":{"condition":{"test":"datum.value > 0","value":"top"},"value":"bottom"},"labelOffset":{"condition":{"test":"datum.value > 0","value":0},"value":-2}}},"y2":{"datum":0},
"fill":{"field":"uc","type":"nominal","legend":null,"scale":{"domain":["g","r"],"range":["#008000","#FF0000"]}}}},
{"mark":{"type":"bar","orient":"vertical","size":4,"clip":true},
"encoding":{"y":{"field":"n","type":"quantitative","title":null,"stack":null,"scale":{"domain":[-22.652,27.05],"nice":false,"zero":false}},"y2":{"datum":0},
"fill":{"field":"nc","type":"nominal","legend":null,"scale":{"domain":["g","r"],"range":["#008000","#FF0000"]}}}}
]
}
]
}
